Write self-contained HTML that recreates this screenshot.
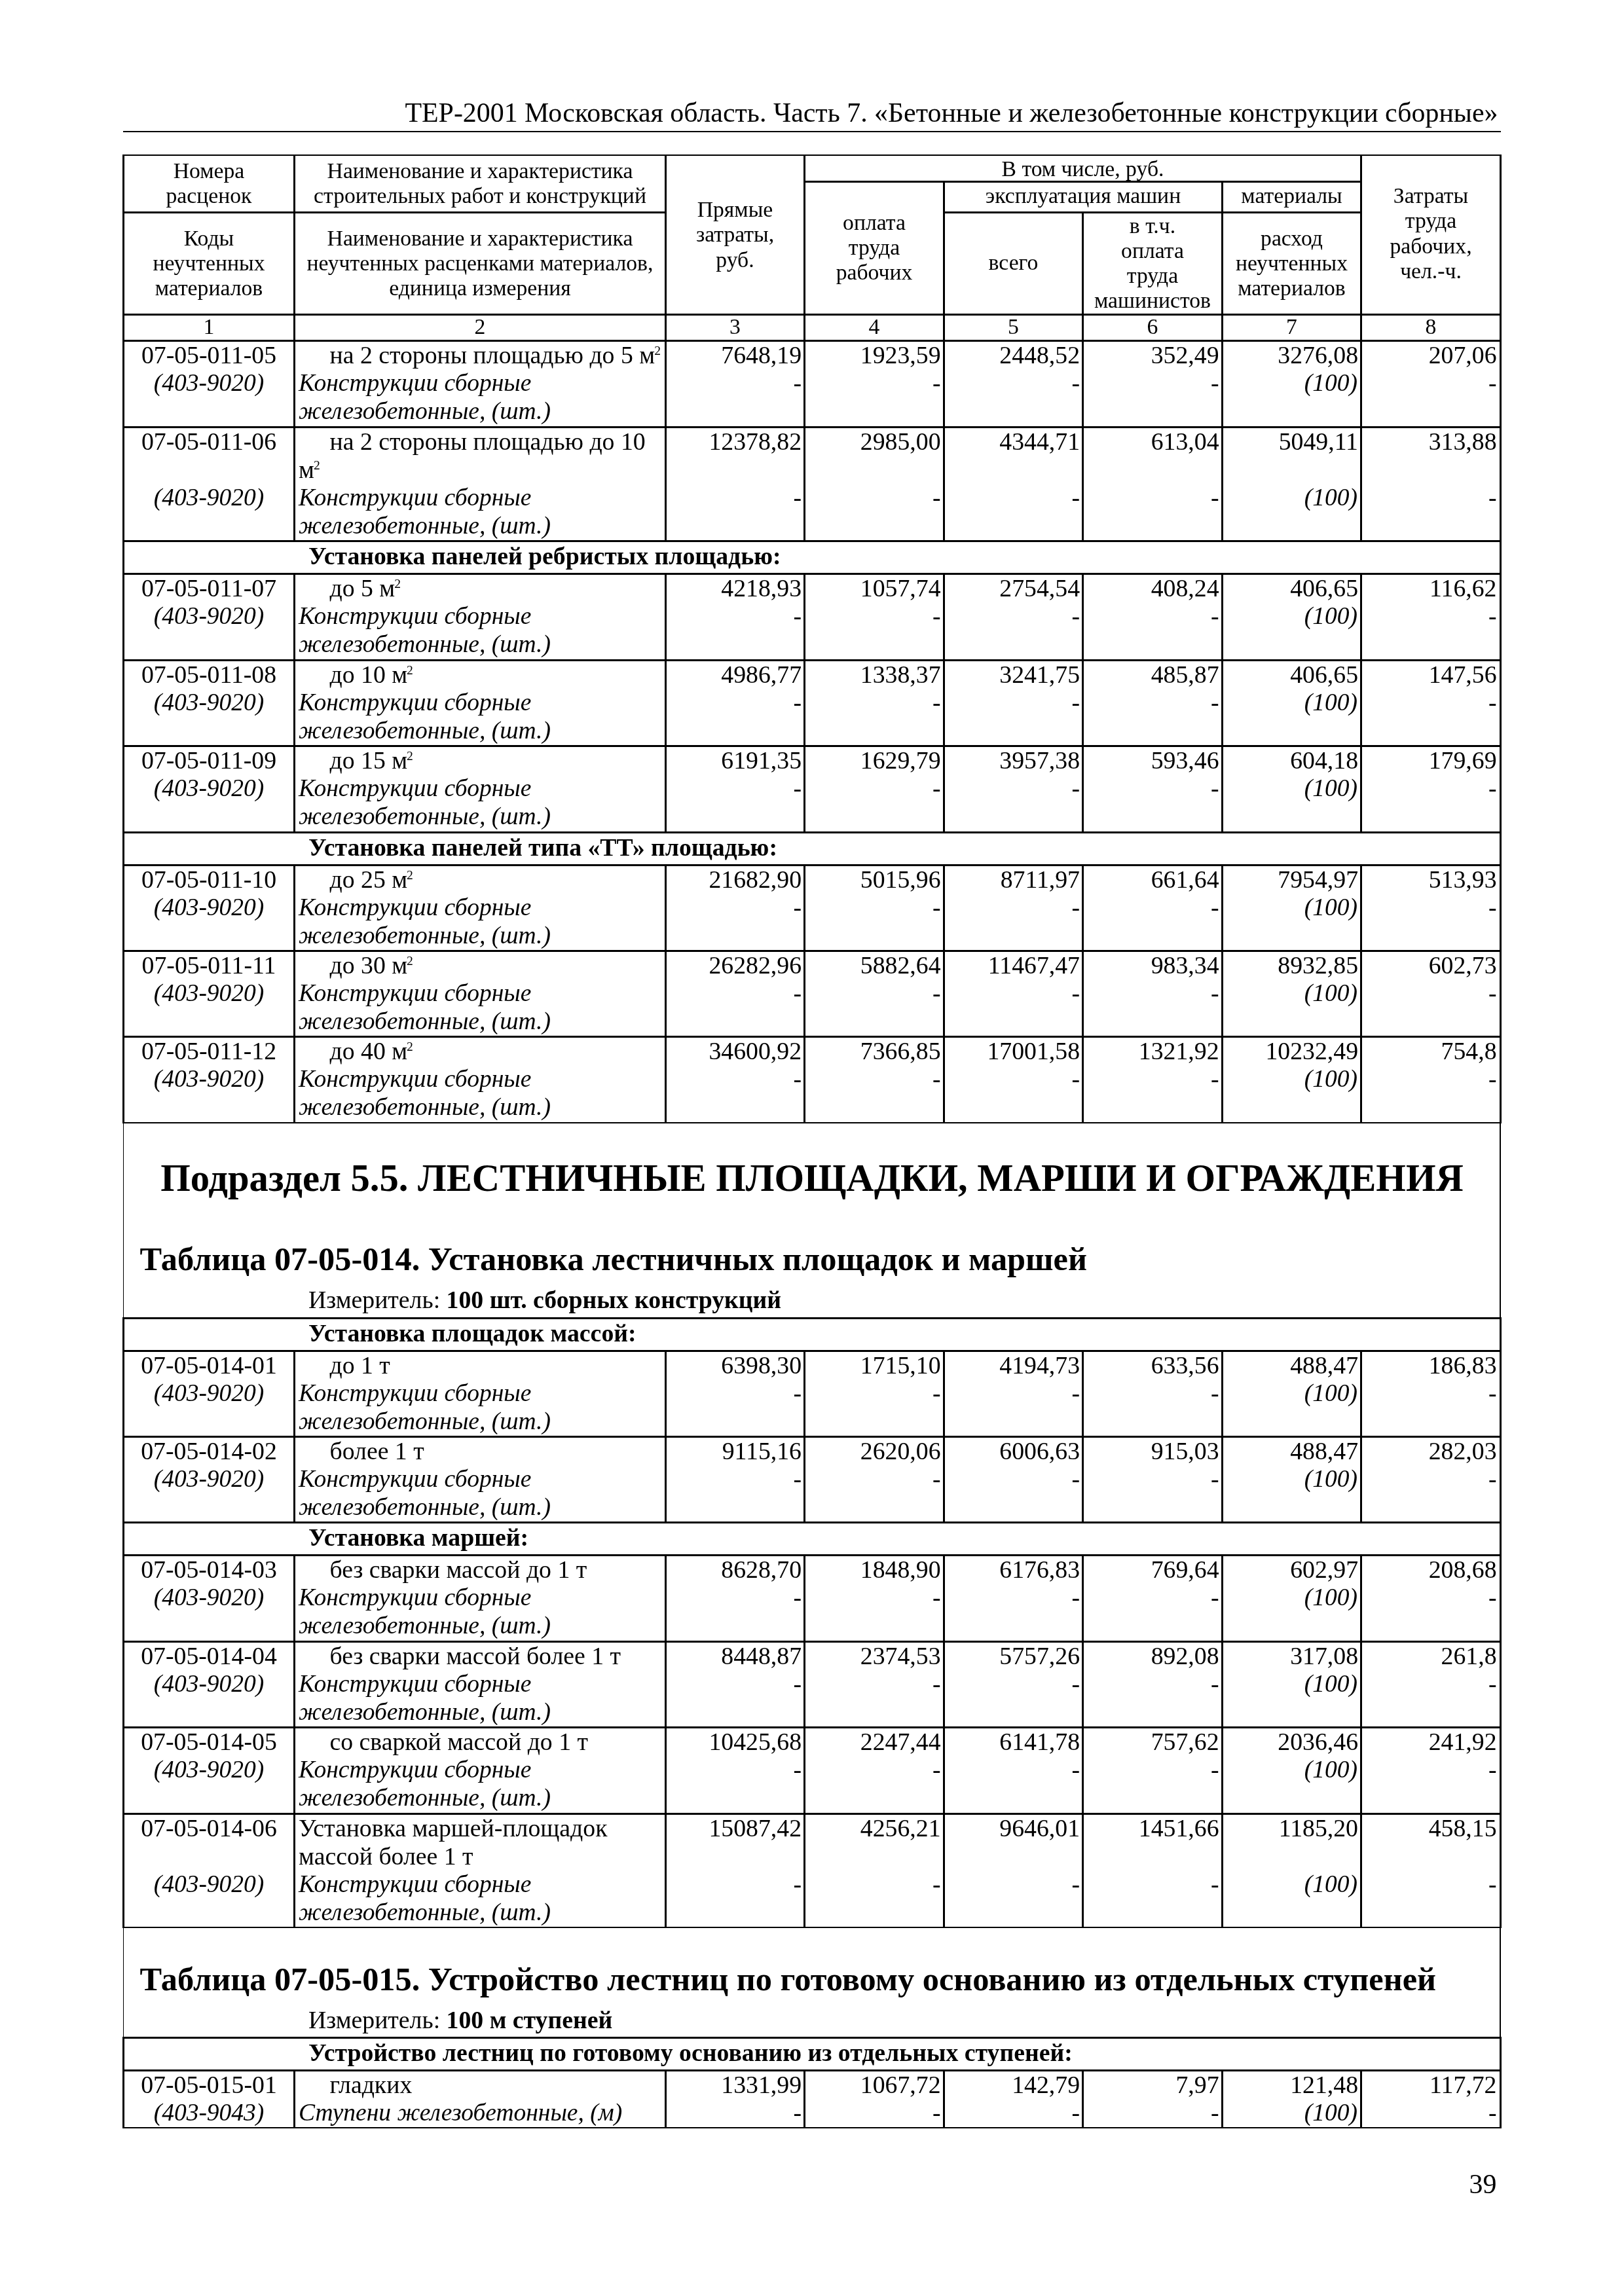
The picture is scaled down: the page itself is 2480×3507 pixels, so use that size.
<!DOCTYPE html>
<html><head><meta charset="utf-8"><style>
html,body{margin:0;padding:0;background:#fff;}
body{width:2480px;height:3507px;position:relative;overflow:hidden;font-family:"Liberation Serif",serif;color:#000;}
.l{position:absolute;background:#000;}
.t{position:absolute;white-space:nowrap;line-height:0;}
.sup{font-size:0.52em;position:relative;top:-0.66em;margin-left:-1px}
#w{position:absolute;left:0;top:0;width:2480px;height:3507px;will-change:transform;}
</style></head><body><div id="w">
<div class="t" style="top:171.66px;font-size:41.9px;right:192.50px;">ТЕР-2001 Московская область. Часть 7. «Бетонные и железобетонные конструкции сборные»</div>
<div class="l" style="left:188px;top:200px;width:2104px;height:2px"></div>
<div class="l" style="left:187px;top:236px;width:2106px;height:2px"></div>
<div class="l" style="left:1227px;top:276px;width:853px;height:3px"></div>
<div class="l" style="left:187px;top:323px;width:831px;height:3px"></div>
<div class="l" style="left:1440px;top:323px;width:640px;height:3px"></div>
<div class="l" style="left:187px;top:479px;width:2106px;height:3px"></div>
<div class="l" style="left:187px;top:519px;width:2106px;height:3px"></div>
<div class="l" style="left:187px;top:236px;width:3px;height:246px"></div>
<div class="l" style="left:448px;top:236px;width:3px;height:246px"></div>
<div class="l" style="left:1015px;top:236px;width:3px;height:246px"></div>
<div class="l" style="left:1227px;top:236px;width:3px;height:246px"></div>
<div class="l" style="left:1440px;top:276px;width:3px;height:206px"></div>
<div class="l" style="left:1652px;top:323px;width:3px;height:159px"></div>
<div class="l" style="left:1865px;top:276px;width:3px;height:206px"></div>
<div class="l" style="left:2077px;top:236px;width:3px;height:246px"></div>
<div class="l" style="left:2290px;top:236px;width:3px;height:246px"></div>
<div class="l" style="left:187px;top:482px;width:3px;height:37px"></div>
<div class="l" style="left:448px;top:482px;width:3px;height:37px"></div>
<div class="l" style="left:1015px;top:482px;width:3px;height:37px"></div>
<div class="l" style="left:1227px;top:482px;width:3px;height:37px"></div>
<div class="l" style="left:1440px;top:482px;width:3px;height:37px"></div>
<div class="l" style="left:1652px;top:482px;width:3px;height:37px"></div>
<div class="l" style="left:1865px;top:482px;width:3px;height:37px"></div>
<div class="l" style="left:2077px;top:482px;width:3px;height:37px"></div>
<div class="l" style="left:2290px;top:482px;width:3px;height:37px"></div>
<div class="t" style="top:261.23px;font-size:33.7px;left:-881.00px;width:2400px;text-align:center;">Номера</div>
<div class="t" style="top:299.43px;font-size:33.7px;left:-881.00px;width:2400px;text-align:center;">расценок</div>
<div class="t" style="top:261.23px;font-size:33.7px;left:-467.00px;width:2400px;text-align:center;">Наименование и характеристика</div>
<div class="t" style="top:299.43px;font-size:33.7px;left:-467.00px;width:2400px;text-align:center;">строительных работ и конструкций</div>
<div class="t" style="top:363.53px;font-size:33.7px;left:-881.00px;width:2400px;text-align:center;">Коды</div>
<div class="t" style="top:401.73px;font-size:33.7px;left:-881.00px;width:2400px;text-align:center;">неучтенных</div>
<div class="t" style="top:439.93px;font-size:33.7px;left:-881.00px;width:2400px;text-align:center;">материалов</div>
<div class="t" style="top:363.53px;font-size:33.7px;left:-467.00px;width:2400px;text-align:center;">Наименование и характеристика</div>
<div class="t" style="top:401.73px;font-size:33.7px;left:-467.00px;width:2400px;text-align:center;">неучтенных расценками материалов,</div>
<div class="t" style="top:439.93px;font-size:33.7px;left:-467.00px;width:2400px;text-align:center;">единица измерения</div>
<div class="t" style="top:320.23px;font-size:33.7px;left:-77.50px;width:2400px;text-align:center;">Прямые</div>
<div class="t" style="top:358.43px;font-size:33.7px;left:-77.50px;width:2400px;text-align:center;">затраты,</div>
<div class="t" style="top:396.63px;font-size:33.7px;left:-77.50px;width:2400px;text-align:center;">руб.</div>
<div class="t" style="top:258.13px;font-size:33.7px;left:453.50px;width:2400px;text-align:center;">В том числе, руб.</div>
<div class="t" style="top:339.63px;font-size:33.7px;left:135.00px;width:2400px;text-align:center;">оплата</div>
<div class="t" style="top:377.83px;font-size:33.7px;left:135.00px;width:2400px;text-align:center;">труда</div>
<div class="t" style="top:416.03px;font-size:33.7px;left:135.00px;width:2400px;text-align:center;">рабочих</div>
<div class="t" style="top:299.33px;font-size:33.7px;left:454.00px;width:2400px;text-align:center;">эксплуатация машин</div>
<div class="t" style="top:299.33px;font-size:33.7px;left:772.50px;width:2400px;text-align:center;">материалы</div>
<div class="t" style="top:401.43px;font-size:33.7px;left:347.50px;width:2400px;text-align:center;">всего</div>
<div class="t" style="top:344.83px;font-size:33.7px;left:560.00px;width:2400px;text-align:center;">в т.ч.</div>
<div class="t" style="top:383.03px;font-size:33.7px;left:560.00px;width:2400px;text-align:center;">оплата</div>
<div class="t" style="top:421.23px;font-size:33.7px;left:560.00px;width:2400px;text-align:center;">труда</div>
<div class="t" style="top:459.43px;font-size:33.7px;left:560.00px;width:2400px;text-align:center;">машинистов</div>
<div class="t" style="top:363.53px;font-size:33.7px;left:772.50px;width:2400px;text-align:center;">расход</div>
<div class="t" style="top:401.73px;font-size:33.7px;left:772.50px;width:2400px;text-align:center;">неучтенных</div>
<div class="t" style="top:439.93px;font-size:33.7px;left:772.50px;width:2400px;text-align:center;">материалов</div>
<div class="t" style="top:299.13px;font-size:33.7px;left:985.00px;width:2400px;text-align:center;">Затраты</div>
<div class="t" style="top:337.43px;font-size:33.7px;left:985.00px;width:2400px;text-align:center;">труда</div>
<div class="t" style="top:375.73px;font-size:33.7px;left:985.00px;width:2400px;text-align:center;">рабочих,</div>
<div class="t" style="top:414.03px;font-size:33.7px;left:985.00px;width:2400px;text-align:center;">чел.-ч.</div>
<div class="t" style="top:499.33px;font-size:33.7px;left:-881.00px;width:2400px;text-align:center;">1</div>
<div class="t" style="top:499.33px;font-size:33.7px;left:-467.00px;width:2400px;text-align:center;">2</div>
<div class="t" style="top:499.33px;font-size:33.7px;left:-77.50px;width:2400px;text-align:center;">3</div>
<div class="t" style="top:499.33px;font-size:33.7px;left:135.00px;width:2400px;text-align:center;">4</div>
<div class="t" style="top:499.33px;font-size:33.7px;left:347.50px;width:2400px;text-align:center;">5</div>
<div class="t" style="top:499.33px;font-size:33.7px;left:560.00px;width:2400px;text-align:center;">6</div>
<div class="t" style="top:499.33px;font-size:33.7px;left:772.50px;width:2400px;text-align:center;">7</div>
<div class="t" style="top:499.33px;font-size:33.7px;left:985.00px;width:2400px;text-align:center;">8</div>
<div class="t" style="top:541.86px;font-size:37.75px;left:-881.00px;width:2400px;text-align:center;">07-05-011-05</div>
<div class="t" style="top:584.96px;font-size:37.5px;font-style:italic;left:-881.00px;width:2400px;text-align:center;">(403-9020)</div>
<div class="t" style="top:541.86px;font-size:37.75px;left:503.50px;">на 2 стороны площадью до 5 м<span class="sup">2</span></div>
<div class="t" style="top:584.96px;font-size:37.5px;font-style:italic;left:456.00px;">Конструкции сборные</div>
<div class="t" style="top:628.06px;font-size:37.5px;font-style:italic;left:456.00px;">железобетонные, (шт.)</div>
<div class="t" style="top:541.86px;font-size:37.75px;right:1256.00px;">7648,19</div>
<div class="t" style="top:541.86px;font-size:37.75px;right:1043.50px;">1923,59</div>
<div class="t" style="top:541.86px;font-size:37.75px;right:831.00px;">2448,52</div>
<div class="t" style="top:541.86px;font-size:37.75px;right:618.50px;">352,49</div>
<div class="t" style="top:541.86px;font-size:37.75px;right:406.00px;">3276,08</div>
<div class="t" style="top:541.86px;font-size:37.75px;right:194.50px;">207,06</div>
<div class="t" style="top:584.96px;font-size:37.75px;right:1256.00px;">-</div>
<div class="t" style="top:584.96px;font-size:37.75px;right:1043.50px;">-</div>
<div class="t" style="top:584.96px;font-size:37.75px;right:831.00px;">-</div>
<div class="t" style="top:584.96px;font-size:37.75px;right:618.50px;">-</div>
<div class="t" style="top:584.96px;font-size:37.5px;font-style:italic;right:407.00px;">(100)</div>
<div class="t" style="top:584.96px;font-size:37.75px;right:194.50px;">-</div>
<div class="l" style="left:448px;top:522px;width:3px;height:129px"></div>
<div class="l" style="left:1015px;top:522px;width:3px;height:129px"></div>
<div class="l" style="left:1227px;top:522px;width:3px;height:129px"></div>
<div class="l" style="left:1440px;top:522px;width:3px;height:129px"></div>
<div class="l" style="left:1652px;top:522px;width:3px;height:129px"></div>
<div class="l" style="left:1865px;top:522px;width:3px;height:129px"></div>
<div class="l" style="left:2077px;top:522px;width:3px;height:129px"></div>
<div class="l" style="left:187px;top:651px;width:2106px;height:3px"></div>
<div class="t" style="top:673.86px;font-size:37.75px;left:-881.00px;width:2400px;text-align:center;">07-05-011-06</div>
<div class="t" style="top:760.06px;font-size:37.5px;font-style:italic;left:-881.00px;width:2400px;text-align:center;">(403-9020)</div>
<div class="t" style="top:673.86px;font-size:37.75px;left:503.50px;">на 2 стороны площадью до 10</div>
<div class="t" style="top:716.96px;font-size:37.75px;left:456.00px;">м<span class="sup">2</span></div>
<div class="t" style="top:760.06px;font-size:37.5px;font-style:italic;left:456.00px;">Конструкции сборные</div>
<div class="t" style="top:803.16px;font-size:37.5px;font-style:italic;left:456.00px;">железобетонные, (шт.)</div>
<div class="t" style="top:673.86px;font-size:37.75px;right:1256.00px;">12378,82</div>
<div class="t" style="top:673.86px;font-size:37.75px;right:1043.50px;">2985,00</div>
<div class="t" style="top:673.86px;font-size:37.75px;right:831.00px;">4344,71</div>
<div class="t" style="top:673.86px;font-size:37.75px;right:618.50px;">613,04</div>
<div class="t" style="top:673.86px;font-size:37.75px;right:406.00px;">5049,11</div>
<div class="t" style="top:673.86px;font-size:37.75px;right:194.50px;">313,88</div>
<div class="t" style="top:760.06px;font-size:37.75px;right:1256.00px;">-</div>
<div class="t" style="top:760.06px;font-size:37.75px;right:1043.50px;">-</div>
<div class="t" style="top:760.06px;font-size:37.75px;right:831.00px;">-</div>
<div class="t" style="top:760.06px;font-size:37.75px;right:618.50px;">-</div>
<div class="t" style="top:760.06px;font-size:37.5px;font-style:italic;right:407.00px;">(100)</div>
<div class="t" style="top:760.06px;font-size:37.75px;right:194.50px;">-</div>
<div class="l" style="left:448px;top:654px;width:3px;height:171px"></div>
<div class="l" style="left:1015px;top:654px;width:3px;height:171px"></div>
<div class="l" style="left:1227px;top:654px;width:3px;height:171px"></div>
<div class="l" style="left:1440px;top:654px;width:3px;height:171px"></div>
<div class="l" style="left:1652px;top:654px;width:3px;height:171px"></div>
<div class="l" style="left:1865px;top:654px;width:3px;height:171px"></div>
<div class="l" style="left:2077px;top:654px;width:3px;height:171px"></div>
<div class="l" style="left:187px;top:825px;width:2106px;height:3px"></div>
<div class="t" style="top:848.86px;font-size:37.75px;font-weight:bold;left:471.00px;">Установка панелей ребристых площадью:</div>
<div class="l" style="left:187px;top:875px;width:2106px;height:3px"></div>
<div class="t" style="top:897.86px;font-size:37.75px;left:-881.00px;width:2400px;text-align:center;">07-05-011-07</div>
<div class="t" style="top:940.96px;font-size:37.5px;font-style:italic;left:-881.00px;width:2400px;text-align:center;">(403-9020)</div>
<div class="t" style="top:897.86px;font-size:37.75px;left:503.50px;">до 5 м<span class="sup">2</span></div>
<div class="t" style="top:940.96px;font-size:37.5px;font-style:italic;left:456.00px;">Конструкции сборные</div>
<div class="t" style="top:984.06px;font-size:37.5px;font-style:italic;left:456.00px;">железобетонные, (шт.)</div>
<div class="t" style="top:897.86px;font-size:37.75px;right:1256.00px;">4218,93</div>
<div class="t" style="top:897.86px;font-size:37.75px;right:1043.50px;">1057,74</div>
<div class="t" style="top:897.86px;font-size:37.75px;right:831.00px;">2754,54</div>
<div class="t" style="top:897.86px;font-size:37.75px;right:618.50px;">408,24</div>
<div class="t" style="top:897.86px;font-size:37.75px;right:406.00px;">406,65</div>
<div class="t" style="top:897.86px;font-size:37.75px;right:194.50px;">116,62</div>
<div class="t" style="top:940.96px;font-size:37.75px;right:1256.00px;">-</div>
<div class="t" style="top:940.96px;font-size:37.75px;right:1043.50px;">-</div>
<div class="t" style="top:940.96px;font-size:37.75px;right:831.00px;">-</div>
<div class="t" style="top:940.96px;font-size:37.75px;right:618.50px;">-</div>
<div class="t" style="top:940.96px;font-size:37.5px;font-style:italic;right:407.00px;">(100)</div>
<div class="t" style="top:940.96px;font-size:37.75px;right:194.50px;">-</div>
<div class="l" style="left:448px;top:878px;width:3px;height:129px"></div>
<div class="l" style="left:1015px;top:878px;width:3px;height:129px"></div>
<div class="l" style="left:1227px;top:878px;width:3px;height:129px"></div>
<div class="l" style="left:1440px;top:878px;width:3px;height:129px"></div>
<div class="l" style="left:1652px;top:878px;width:3px;height:129px"></div>
<div class="l" style="left:1865px;top:878px;width:3px;height:129px"></div>
<div class="l" style="left:2077px;top:878px;width:3px;height:129px"></div>
<div class="l" style="left:187px;top:1007px;width:2106px;height:3px"></div>
<div class="t" style="top:1029.86px;font-size:37.75px;left:-881.00px;width:2400px;text-align:center;">07-05-011-08</div>
<div class="t" style="top:1072.96px;font-size:37.5px;font-style:italic;left:-881.00px;width:2400px;text-align:center;">(403-9020)</div>
<div class="t" style="top:1029.86px;font-size:37.75px;left:503.50px;">до 10 м<span class="sup">2</span></div>
<div class="t" style="top:1072.96px;font-size:37.5px;font-style:italic;left:456.00px;">Конструкции сборные</div>
<div class="t" style="top:1116.06px;font-size:37.5px;font-style:italic;left:456.00px;">железобетонные, (шт.)</div>
<div class="t" style="top:1029.86px;font-size:37.75px;right:1256.00px;">4986,77</div>
<div class="t" style="top:1029.86px;font-size:37.75px;right:1043.50px;">1338,37</div>
<div class="t" style="top:1029.86px;font-size:37.75px;right:831.00px;">3241,75</div>
<div class="t" style="top:1029.86px;font-size:37.75px;right:618.50px;">485,87</div>
<div class="t" style="top:1029.86px;font-size:37.75px;right:406.00px;">406,65</div>
<div class="t" style="top:1029.86px;font-size:37.75px;right:194.50px;">147,56</div>
<div class="t" style="top:1072.96px;font-size:37.75px;right:1256.00px;">-</div>
<div class="t" style="top:1072.96px;font-size:37.75px;right:1043.50px;">-</div>
<div class="t" style="top:1072.96px;font-size:37.75px;right:831.00px;">-</div>
<div class="t" style="top:1072.96px;font-size:37.75px;right:618.50px;">-</div>
<div class="t" style="top:1072.96px;font-size:37.5px;font-style:italic;right:407.00px;">(100)</div>
<div class="t" style="top:1072.96px;font-size:37.75px;right:194.50px;">-</div>
<div class="l" style="left:448px;top:1010px;width:3px;height:128px"></div>
<div class="l" style="left:1015px;top:1010px;width:3px;height:128px"></div>
<div class="l" style="left:1227px;top:1010px;width:3px;height:128px"></div>
<div class="l" style="left:1440px;top:1010px;width:3px;height:128px"></div>
<div class="l" style="left:1652px;top:1010px;width:3px;height:128px"></div>
<div class="l" style="left:1865px;top:1010px;width:3px;height:128px"></div>
<div class="l" style="left:2077px;top:1010px;width:3px;height:128px"></div>
<div class="l" style="left:187px;top:1138px;width:2106px;height:3px"></div>
<div class="t" style="top:1160.86px;font-size:37.75px;left:-881.00px;width:2400px;text-align:center;">07-05-011-09</div>
<div class="t" style="top:1203.96px;font-size:37.5px;font-style:italic;left:-881.00px;width:2400px;text-align:center;">(403-9020)</div>
<div class="t" style="top:1160.86px;font-size:37.75px;left:503.50px;">до 15 м<span class="sup">2</span></div>
<div class="t" style="top:1203.96px;font-size:37.5px;font-style:italic;left:456.00px;">Конструкции сборные</div>
<div class="t" style="top:1247.06px;font-size:37.5px;font-style:italic;left:456.00px;">железобетонные, (шт.)</div>
<div class="t" style="top:1160.86px;font-size:37.75px;right:1256.00px;">6191,35</div>
<div class="t" style="top:1160.86px;font-size:37.75px;right:1043.50px;">1629,79</div>
<div class="t" style="top:1160.86px;font-size:37.75px;right:831.00px;">3957,38</div>
<div class="t" style="top:1160.86px;font-size:37.75px;right:618.50px;">593,46</div>
<div class="t" style="top:1160.86px;font-size:37.75px;right:406.00px;">604,18</div>
<div class="t" style="top:1160.86px;font-size:37.75px;right:194.50px;">179,69</div>
<div class="t" style="top:1203.96px;font-size:37.75px;right:1256.00px;">-</div>
<div class="t" style="top:1203.96px;font-size:37.75px;right:1043.50px;">-</div>
<div class="t" style="top:1203.96px;font-size:37.75px;right:831.00px;">-</div>
<div class="t" style="top:1203.96px;font-size:37.75px;right:618.50px;">-</div>
<div class="t" style="top:1203.96px;font-size:37.5px;font-style:italic;right:407.00px;">(100)</div>
<div class="t" style="top:1203.96px;font-size:37.75px;right:194.50px;">-</div>
<div class="l" style="left:448px;top:1141px;width:3px;height:129px"></div>
<div class="l" style="left:1015px;top:1141px;width:3px;height:129px"></div>
<div class="l" style="left:1227px;top:1141px;width:3px;height:129px"></div>
<div class="l" style="left:1440px;top:1141px;width:3px;height:129px"></div>
<div class="l" style="left:1652px;top:1141px;width:3px;height:129px"></div>
<div class="l" style="left:1865px;top:1141px;width:3px;height:129px"></div>
<div class="l" style="left:2077px;top:1141px;width:3px;height:129px"></div>
<div class="l" style="left:187px;top:1270px;width:2106px;height:3px"></div>
<div class="t" style="top:1293.86px;font-size:37.75px;font-weight:bold;left:471.00px;">Установка панелей типа «ТТ» площадью:</div>
<div class="l" style="left:187px;top:1320px;width:2106px;height:3px"></div>
<div class="t" style="top:1342.86px;font-size:37.75px;left:-881.00px;width:2400px;text-align:center;">07-05-011-10</div>
<div class="t" style="top:1385.96px;font-size:37.5px;font-style:italic;left:-881.00px;width:2400px;text-align:center;">(403-9020)</div>
<div class="t" style="top:1342.86px;font-size:37.75px;left:503.50px;">до 25 м<span class="sup">2</span></div>
<div class="t" style="top:1385.96px;font-size:37.5px;font-style:italic;left:456.00px;">Конструкции сборные</div>
<div class="t" style="top:1429.06px;font-size:37.5px;font-style:italic;left:456.00px;">железобетонные, (шт.)</div>
<div class="t" style="top:1342.86px;font-size:37.75px;right:1256.00px;">21682,90</div>
<div class="t" style="top:1342.86px;font-size:37.75px;right:1043.50px;">5015,96</div>
<div class="t" style="top:1342.86px;font-size:37.75px;right:831.00px;">8711,97</div>
<div class="t" style="top:1342.86px;font-size:37.75px;right:618.50px;">661,64</div>
<div class="t" style="top:1342.86px;font-size:37.75px;right:406.00px;">7954,97</div>
<div class="t" style="top:1342.86px;font-size:37.75px;right:194.50px;">513,93</div>
<div class="t" style="top:1385.96px;font-size:37.75px;right:1256.00px;">-</div>
<div class="t" style="top:1385.96px;font-size:37.75px;right:1043.50px;">-</div>
<div class="t" style="top:1385.96px;font-size:37.75px;right:831.00px;">-</div>
<div class="t" style="top:1385.96px;font-size:37.75px;right:618.50px;">-</div>
<div class="t" style="top:1385.96px;font-size:37.5px;font-style:italic;right:407.00px;">(100)</div>
<div class="t" style="top:1385.96px;font-size:37.75px;right:194.50px;">-</div>
<div class="l" style="left:448px;top:1323px;width:3px;height:128px"></div>
<div class="l" style="left:1015px;top:1323px;width:3px;height:128px"></div>
<div class="l" style="left:1227px;top:1323px;width:3px;height:128px"></div>
<div class="l" style="left:1440px;top:1323px;width:3px;height:128px"></div>
<div class="l" style="left:1652px;top:1323px;width:3px;height:128px"></div>
<div class="l" style="left:1865px;top:1323px;width:3px;height:128px"></div>
<div class="l" style="left:2077px;top:1323px;width:3px;height:128px"></div>
<div class="l" style="left:187px;top:1451px;width:2106px;height:3px"></div>
<div class="t" style="top:1473.86px;font-size:37.75px;left:-881.00px;width:2400px;text-align:center;">07-05-011-11</div>
<div class="t" style="top:1516.96px;font-size:37.5px;font-style:italic;left:-881.00px;width:2400px;text-align:center;">(403-9020)</div>
<div class="t" style="top:1473.86px;font-size:37.75px;left:503.50px;">до 30 м<span class="sup">2</span></div>
<div class="t" style="top:1516.96px;font-size:37.5px;font-style:italic;left:456.00px;">Конструкции сборные</div>
<div class="t" style="top:1560.06px;font-size:37.5px;font-style:italic;left:456.00px;">железобетонные, (шт.)</div>
<div class="t" style="top:1473.86px;font-size:37.75px;right:1256.00px;">26282,96</div>
<div class="t" style="top:1473.86px;font-size:37.75px;right:1043.50px;">5882,64</div>
<div class="t" style="top:1473.86px;font-size:37.75px;right:831.00px;">11467,47</div>
<div class="t" style="top:1473.86px;font-size:37.75px;right:618.50px;">983,34</div>
<div class="t" style="top:1473.86px;font-size:37.75px;right:406.00px;">8932,85</div>
<div class="t" style="top:1473.86px;font-size:37.75px;right:194.50px;">602,73</div>
<div class="t" style="top:1516.96px;font-size:37.75px;right:1256.00px;">-</div>
<div class="t" style="top:1516.96px;font-size:37.75px;right:1043.50px;">-</div>
<div class="t" style="top:1516.96px;font-size:37.75px;right:831.00px;">-</div>
<div class="t" style="top:1516.96px;font-size:37.75px;right:618.50px;">-</div>
<div class="t" style="top:1516.96px;font-size:37.5px;font-style:italic;right:407.00px;">(100)</div>
<div class="t" style="top:1516.96px;font-size:37.75px;right:194.50px;">-</div>
<div class="l" style="left:448px;top:1454px;width:3px;height:128px"></div>
<div class="l" style="left:1015px;top:1454px;width:3px;height:128px"></div>
<div class="l" style="left:1227px;top:1454px;width:3px;height:128px"></div>
<div class="l" style="left:1440px;top:1454px;width:3px;height:128px"></div>
<div class="l" style="left:1652px;top:1454px;width:3px;height:128px"></div>
<div class="l" style="left:1865px;top:1454px;width:3px;height:128px"></div>
<div class="l" style="left:2077px;top:1454px;width:3px;height:128px"></div>
<div class="l" style="left:187px;top:1582px;width:2106px;height:3px"></div>
<div class="t" style="top:1604.86px;font-size:37.75px;left:-881.00px;width:2400px;text-align:center;">07-05-011-12</div>
<div class="t" style="top:1647.96px;font-size:37.5px;font-style:italic;left:-881.00px;width:2400px;text-align:center;">(403-9020)</div>
<div class="t" style="top:1604.86px;font-size:37.75px;left:503.50px;">до 40 м<span class="sup">2</span></div>
<div class="t" style="top:1647.96px;font-size:37.5px;font-style:italic;left:456.00px;">Конструкции сборные</div>
<div class="t" style="top:1691.06px;font-size:37.5px;font-style:italic;left:456.00px;">железобетонные, (шт.)</div>
<div class="t" style="top:1604.86px;font-size:37.75px;right:1256.00px;">34600,92</div>
<div class="t" style="top:1604.86px;font-size:37.75px;right:1043.50px;">7366,85</div>
<div class="t" style="top:1604.86px;font-size:37.75px;right:831.00px;">17001,58</div>
<div class="t" style="top:1604.86px;font-size:37.75px;right:618.50px;">1321,92</div>
<div class="t" style="top:1604.86px;font-size:37.75px;right:406.00px;">10232,49</div>
<div class="t" style="top:1604.86px;font-size:37.75px;right:194.50px;">754,8</div>
<div class="t" style="top:1647.96px;font-size:37.75px;right:1256.00px;">-</div>
<div class="t" style="top:1647.96px;font-size:37.75px;right:1043.50px;">-</div>
<div class="t" style="top:1647.96px;font-size:37.75px;right:831.00px;">-</div>
<div class="t" style="top:1647.96px;font-size:37.75px;right:618.50px;">-</div>
<div class="t" style="top:1647.96px;font-size:37.5px;font-style:italic;right:407.00px;">(100)</div>
<div class="t" style="top:1647.96px;font-size:37.75px;right:194.50px;">-</div>
<div class="l" style="left:448px;top:1585px;width:3px;height:129px"></div>
<div class="l" style="left:1015px;top:1585px;width:3px;height:129px"></div>
<div class="l" style="left:1227px;top:1585px;width:3px;height:129px"></div>
<div class="l" style="left:1440px;top:1585px;width:3px;height:129px"></div>
<div class="l" style="left:1652px;top:1585px;width:3px;height:129px"></div>
<div class="l" style="left:1865px;top:1585px;width:3px;height:129px"></div>
<div class="l" style="left:2077px;top:1585px;width:3px;height:129px"></div>
<div class="l" style="left:187px;top:1714px;width:2106px;height:2px"></div>
<div class="l" style="left:187px;top:519px;width:3px;height:1197px"></div>
<div class="l" style="left:2290px;top:519px;width:3px;height:1197px"></div>
<div class="l" style="left:188px;top:1716px;width:1px;height:296px"></div>
<div class="l" style="left:2290px;top:1716px;width:2px;height:296px"></div>
<div class="t" style="top:1799.72px;font-size:58.6px;font-weight:bold;left:40.00px;width:2400px;text-align:center;">Подраздел 5.5. ЛЕСТНИЧНЫЕ ПЛОЩАДКИ, МАРШИ И ОГРАЖДЕНИЯ</div>
<div class="t" style="top:1923.11px;font-size:50.35px;font-weight:bold;left:213.50px;">Таблица 07-05-014. Установка лестничных площадок и маршей</div>
<div class="t" style="top:1984.76px;font-size:37.75px;left:471.00px;">Измеритель: <b>100 шт. сборных конструкций</b></div>
<div class="l" style="left:187px;top:2012px;width:2106px;height:3px"></div>
<div class="t" style="top:2035.86px;font-size:37.75px;font-weight:bold;left:471.00px;">Установка площадок массой:</div>
<div class="l" style="left:187px;top:2062px;width:2106px;height:3px"></div>
<div class="t" style="top:2084.86px;font-size:37.75px;left:-881.00px;width:2400px;text-align:center;">07-05-014-01</div>
<div class="t" style="top:2127.96px;font-size:37.5px;font-style:italic;left:-881.00px;width:2400px;text-align:center;">(403-9020)</div>
<div class="t" style="top:2084.86px;font-size:37.75px;left:503.50px;">до 1 т</div>
<div class="t" style="top:2127.96px;font-size:37.5px;font-style:italic;left:456.00px;">Конструкции сборные</div>
<div class="t" style="top:2171.06px;font-size:37.5px;font-style:italic;left:456.00px;">железобетонные, (шт.)</div>
<div class="t" style="top:2084.86px;font-size:37.75px;right:1256.00px;">6398,30</div>
<div class="t" style="top:2084.86px;font-size:37.75px;right:1043.50px;">1715,10</div>
<div class="t" style="top:2084.86px;font-size:37.75px;right:831.00px;">4194,73</div>
<div class="t" style="top:2084.86px;font-size:37.75px;right:618.50px;">633,56</div>
<div class="t" style="top:2084.86px;font-size:37.75px;right:406.00px;">488,47</div>
<div class="t" style="top:2084.86px;font-size:37.75px;right:194.50px;">186,83</div>
<div class="t" style="top:2127.96px;font-size:37.75px;right:1256.00px;">-</div>
<div class="t" style="top:2127.96px;font-size:37.75px;right:1043.50px;">-</div>
<div class="t" style="top:2127.96px;font-size:37.75px;right:831.00px;">-</div>
<div class="t" style="top:2127.96px;font-size:37.75px;right:618.50px;">-</div>
<div class="t" style="top:2127.96px;font-size:37.5px;font-style:italic;right:407.00px;">(100)</div>
<div class="t" style="top:2127.96px;font-size:37.75px;right:194.50px;">-</div>
<div class="l" style="left:448px;top:2065px;width:3px;height:128px"></div>
<div class="l" style="left:1015px;top:2065px;width:3px;height:128px"></div>
<div class="l" style="left:1227px;top:2065px;width:3px;height:128px"></div>
<div class="l" style="left:1440px;top:2065px;width:3px;height:128px"></div>
<div class="l" style="left:1652px;top:2065px;width:3px;height:128px"></div>
<div class="l" style="left:1865px;top:2065px;width:3px;height:128px"></div>
<div class="l" style="left:2077px;top:2065px;width:3px;height:128px"></div>
<div class="l" style="left:187px;top:2193px;width:2106px;height:3px"></div>
<div class="t" style="top:2215.86px;font-size:37.75px;left:-881.00px;width:2400px;text-align:center;">07-05-014-02</div>
<div class="t" style="top:2258.96px;font-size:37.5px;font-style:italic;left:-881.00px;width:2400px;text-align:center;">(403-9020)</div>
<div class="t" style="top:2215.86px;font-size:37.75px;left:503.50px;">более 1 т</div>
<div class="t" style="top:2258.96px;font-size:37.5px;font-style:italic;left:456.00px;">Конструкции сборные</div>
<div class="t" style="top:2302.06px;font-size:37.5px;font-style:italic;left:456.00px;">железобетонные, (шт.)</div>
<div class="t" style="top:2215.86px;font-size:37.75px;right:1256.00px;">9115,16</div>
<div class="t" style="top:2215.86px;font-size:37.75px;right:1043.50px;">2620,06</div>
<div class="t" style="top:2215.86px;font-size:37.75px;right:831.00px;">6006,63</div>
<div class="t" style="top:2215.86px;font-size:37.75px;right:618.50px;">915,03</div>
<div class="t" style="top:2215.86px;font-size:37.75px;right:406.00px;">488,47</div>
<div class="t" style="top:2215.86px;font-size:37.75px;right:194.50px;">282,03</div>
<div class="t" style="top:2258.96px;font-size:37.75px;right:1256.00px;">-</div>
<div class="t" style="top:2258.96px;font-size:37.75px;right:1043.50px;">-</div>
<div class="t" style="top:2258.96px;font-size:37.75px;right:831.00px;">-</div>
<div class="t" style="top:2258.96px;font-size:37.75px;right:618.50px;">-</div>
<div class="t" style="top:2258.96px;font-size:37.5px;font-style:italic;right:407.00px;">(100)</div>
<div class="t" style="top:2258.96px;font-size:37.75px;right:194.50px;">-</div>
<div class="l" style="left:448px;top:2196px;width:3px;height:128px"></div>
<div class="l" style="left:1015px;top:2196px;width:3px;height:128px"></div>
<div class="l" style="left:1227px;top:2196px;width:3px;height:128px"></div>
<div class="l" style="left:1440px;top:2196px;width:3px;height:128px"></div>
<div class="l" style="left:1652px;top:2196px;width:3px;height:128px"></div>
<div class="l" style="left:1865px;top:2196px;width:3px;height:128px"></div>
<div class="l" style="left:2077px;top:2196px;width:3px;height:128px"></div>
<div class="l" style="left:187px;top:2324px;width:2106px;height:3px"></div>
<div class="t" style="top:2347.86px;font-size:37.75px;font-weight:bold;left:471.00px;">Установка маршей:</div>
<div class="l" style="left:187px;top:2374px;width:2106px;height:3px"></div>
<div class="t" style="top:2396.86px;font-size:37.75px;left:-881.00px;width:2400px;text-align:center;">07-05-014-03</div>
<div class="t" style="top:2439.96px;font-size:37.5px;font-style:italic;left:-881.00px;width:2400px;text-align:center;">(403-9020)</div>
<div class="t" style="top:2396.86px;font-size:37.75px;left:503.50px;">без сварки массой до 1 т</div>
<div class="t" style="top:2439.96px;font-size:37.5px;font-style:italic;left:456.00px;">Конструкции сборные</div>
<div class="t" style="top:2483.06px;font-size:37.5px;font-style:italic;left:456.00px;">железобетонные, (шт.)</div>
<div class="t" style="top:2396.86px;font-size:37.75px;right:1256.00px;">8628,70</div>
<div class="t" style="top:2396.86px;font-size:37.75px;right:1043.50px;">1848,90</div>
<div class="t" style="top:2396.86px;font-size:37.75px;right:831.00px;">6176,83</div>
<div class="t" style="top:2396.86px;font-size:37.75px;right:618.50px;">769,64</div>
<div class="t" style="top:2396.86px;font-size:37.75px;right:406.00px;">602,97</div>
<div class="t" style="top:2396.86px;font-size:37.75px;right:194.50px;">208,68</div>
<div class="t" style="top:2439.96px;font-size:37.75px;right:1256.00px;">-</div>
<div class="t" style="top:2439.96px;font-size:37.75px;right:1043.50px;">-</div>
<div class="t" style="top:2439.96px;font-size:37.75px;right:831.00px;">-</div>
<div class="t" style="top:2439.96px;font-size:37.75px;right:618.50px;">-</div>
<div class="t" style="top:2439.96px;font-size:37.5px;font-style:italic;right:407.00px;">(100)</div>
<div class="t" style="top:2439.96px;font-size:37.75px;right:194.50px;">-</div>
<div class="l" style="left:448px;top:2377px;width:3px;height:129px"></div>
<div class="l" style="left:1015px;top:2377px;width:3px;height:129px"></div>
<div class="l" style="left:1227px;top:2377px;width:3px;height:129px"></div>
<div class="l" style="left:1440px;top:2377px;width:3px;height:129px"></div>
<div class="l" style="left:1652px;top:2377px;width:3px;height:129px"></div>
<div class="l" style="left:1865px;top:2377px;width:3px;height:129px"></div>
<div class="l" style="left:2077px;top:2377px;width:3px;height:129px"></div>
<div class="l" style="left:187px;top:2506px;width:2106px;height:3px"></div>
<div class="t" style="top:2528.86px;font-size:37.75px;left:-881.00px;width:2400px;text-align:center;">07-05-014-04</div>
<div class="t" style="top:2571.96px;font-size:37.5px;font-style:italic;left:-881.00px;width:2400px;text-align:center;">(403-9020)</div>
<div class="t" style="top:2528.86px;font-size:37.75px;left:503.50px;">без сварки массой более 1 т</div>
<div class="t" style="top:2571.96px;font-size:37.5px;font-style:italic;left:456.00px;">Конструкции сборные</div>
<div class="t" style="top:2615.06px;font-size:37.5px;font-style:italic;left:456.00px;">железобетонные, (шт.)</div>
<div class="t" style="top:2528.86px;font-size:37.75px;right:1256.00px;">8448,87</div>
<div class="t" style="top:2528.86px;font-size:37.75px;right:1043.50px;">2374,53</div>
<div class="t" style="top:2528.86px;font-size:37.75px;right:831.00px;">5757,26</div>
<div class="t" style="top:2528.86px;font-size:37.75px;right:618.50px;">892,08</div>
<div class="t" style="top:2528.86px;font-size:37.75px;right:406.00px;">317,08</div>
<div class="t" style="top:2528.86px;font-size:37.75px;right:194.50px;">261,8</div>
<div class="t" style="top:2571.96px;font-size:37.75px;right:1256.00px;">-</div>
<div class="t" style="top:2571.96px;font-size:37.75px;right:1043.50px;">-</div>
<div class="t" style="top:2571.96px;font-size:37.75px;right:831.00px;">-</div>
<div class="t" style="top:2571.96px;font-size:37.75px;right:618.50px;">-</div>
<div class="t" style="top:2571.96px;font-size:37.5px;font-style:italic;right:407.00px;">(100)</div>
<div class="t" style="top:2571.96px;font-size:37.75px;right:194.50px;">-</div>
<div class="l" style="left:448px;top:2509px;width:3px;height:128px"></div>
<div class="l" style="left:1015px;top:2509px;width:3px;height:128px"></div>
<div class="l" style="left:1227px;top:2509px;width:3px;height:128px"></div>
<div class="l" style="left:1440px;top:2509px;width:3px;height:128px"></div>
<div class="l" style="left:1652px;top:2509px;width:3px;height:128px"></div>
<div class="l" style="left:1865px;top:2509px;width:3px;height:128px"></div>
<div class="l" style="left:2077px;top:2509px;width:3px;height:128px"></div>
<div class="l" style="left:187px;top:2637px;width:2106px;height:3px"></div>
<div class="t" style="top:2659.86px;font-size:37.75px;left:-881.00px;width:2400px;text-align:center;">07-05-014-05</div>
<div class="t" style="top:2702.96px;font-size:37.5px;font-style:italic;left:-881.00px;width:2400px;text-align:center;">(403-9020)</div>
<div class="t" style="top:2659.86px;font-size:37.75px;left:503.50px;">со сваркой массой до 1 т</div>
<div class="t" style="top:2702.96px;font-size:37.5px;font-style:italic;left:456.00px;">Конструкции сборные</div>
<div class="t" style="top:2746.06px;font-size:37.5px;font-style:italic;left:456.00px;">железобетонные, (шт.)</div>
<div class="t" style="top:2659.86px;font-size:37.75px;right:1256.00px;">10425,68</div>
<div class="t" style="top:2659.86px;font-size:37.75px;right:1043.50px;">2247,44</div>
<div class="t" style="top:2659.86px;font-size:37.75px;right:831.00px;">6141,78</div>
<div class="t" style="top:2659.86px;font-size:37.75px;right:618.50px;">757,62</div>
<div class="t" style="top:2659.86px;font-size:37.75px;right:406.00px;">2036,46</div>
<div class="t" style="top:2659.86px;font-size:37.75px;right:194.50px;">241,92</div>
<div class="t" style="top:2702.96px;font-size:37.75px;right:1256.00px;">-</div>
<div class="t" style="top:2702.96px;font-size:37.75px;right:1043.50px;">-</div>
<div class="t" style="top:2702.96px;font-size:37.75px;right:831.00px;">-</div>
<div class="t" style="top:2702.96px;font-size:37.75px;right:618.50px;">-</div>
<div class="t" style="top:2702.96px;font-size:37.5px;font-style:italic;right:407.00px;">(100)</div>
<div class="t" style="top:2702.96px;font-size:37.75px;right:194.50px;">-</div>
<div class="l" style="left:448px;top:2640px;width:3px;height:129px"></div>
<div class="l" style="left:1015px;top:2640px;width:3px;height:129px"></div>
<div class="l" style="left:1227px;top:2640px;width:3px;height:129px"></div>
<div class="l" style="left:1440px;top:2640px;width:3px;height:129px"></div>
<div class="l" style="left:1652px;top:2640px;width:3px;height:129px"></div>
<div class="l" style="left:1865px;top:2640px;width:3px;height:129px"></div>
<div class="l" style="left:2077px;top:2640px;width:3px;height:129px"></div>
<div class="l" style="left:187px;top:2769px;width:2106px;height:3px"></div>
<div class="t" style="top:2791.86px;font-size:37.75px;left:-881.00px;width:2400px;text-align:center;">07-05-014-06</div>
<div class="t" style="top:2878.06px;font-size:37.5px;font-style:italic;left:-881.00px;width:2400px;text-align:center;">(403-9020)</div>
<div class="t" style="top:2791.86px;font-size:37.75px;left:456.00px;">Установка маршей-площадок</div>
<div class="t" style="top:2834.96px;font-size:37.75px;left:456.00px;">массой более 1 т</div>
<div class="t" style="top:2878.06px;font-size:37.5px;font-style:italic;left:456.00px;">Конструкции сборные</div>
<div class="t" style="top:2921.16px;font-size:37.5px;font-style:italic;left:456.00px;">железобетонные, (шт.)</div>
<div class="t" style="top:2791.86px;font-size:37.75px;right:1256.00px;">15087,42</div>
<div class="t" style="top:2791.86px;font-size:37.75px;right:1043.50px;">4256,21</div>
<div class="t" style="top:2791.86px;font-size:37.75px;right:831.00px;">9646,01</div>
<div class="t" style="top:2791.86px;font-size:37.75px;right:618.50px;">1451,66</div>
<div class="t" style="top:2791.86px;font-size:37.75px;right:406.00px;">1185,20</div>
<div class="t" style="top:2791.86px;font-size:37.75px;right:194.50px;">458,15</div>
<div class="t" style="top:2878.06px;font-size:37.75px;right:1256.00px;">-</div>
<div class="t" style="top:2878.06px;font-size:37.75px;right:1043.50px;">-</div>
<div class="t" style="top:2878.06px;font-size:37.75px;right:831.00px;">-</div>
<div class="t" style="top:2878.06px;font-size:37.75px;right:618.50px;">-</div>
<div class="t" style="top:2878.06px;font-size:37.5px;font-style:italic;right:407.00px;">(100)</div>
<div class="t" style="top:2878.06px;font-size:37.75px;right:194.50px;">-</div>
<div class="l" style="left:448px;top:2772px;width:3px;height:171px"></div>
<div class="l" style="left:1015px;top:2772px;width:3px;height:171px"></div>
<div class="l" style="left:1227px;top:2772px;width:3px;height:171px"></div>
<div class="l" style="left:1440px;top:2772px;width:3px;height:171px"></div>
<div class="l" style="left:1652px;top:2772px;width:3px;height:171px"></div>
<div class="l" style="left:1865px;top:2772px;width:3px;height:171px"></div>
<div class="l" style="left:2077px;top:2772px;width:3px;height:171px"></div>
<div class="l" style="left:187px;top:2943px;width:2106px;height:2px"></div>
<div class="l" style="left:187px;top:2012px;width:3px;height:933px"></div>
<div class="l" style="left:2290px;top:2012px;width:3px;height:933px"></div>
<div class="l" style="left:188px;top:2945px;width:1px;height:166px"></div>
<div class="l" style="left:2290px;top:2945px;width:2px;height:166px"></div>
<div class="t" style="top:3023.21px;font-size:50.35px;font-weight:bold;left:213.50px;">Таблица 07-05-015. Устройство лестниц по готовому основанию из отдельных ступеней</div>
<div class="t" style="top:3084.56px;font-size:37.75px;left:471.00px;">Измеритель: <b>100 м ступеней</b></div>
<div class="l" style="left:187px;top:3111px;width:2106px;height:3px"></div>
<div class="t" style="top:3134.86px;font-size:37.75px;font-weight:bold;left:471.00px;">Устройство лестниц по готовому основанию из отдельных ступеней:</div>
<div class="l" style="left:187px;top:3161px;width:2106px;height:3px"></div>
<div class="t" style="top:3183.86px;font-size:37.75px;left:-881.00px;width:2400px;text-align:center;">07-05-015-01</div>
<div class="t" style="top:3226.96px;font-size:37.5px;font-style:italic;left:-881.00px;width:2400px;text-align:center;">(403-9043)</div>
<div class="t" style="top:3183.86px;font-size:37.75px;left:503.50px;">гладких</div>
<div class="t" style="top:3226.96px;font-size:37.5px;font-style:italic;left:456.00px;">Ступени железобетонные, (м)</div>
<div class="t" style="top:3183.86px;font-size:37.75px;right:1256.00px;">1331,99</div>
<div class="t" style="top:3183.86px;font-size:37.75px;right:1043.50px;">1067,72</div>
<div class="t" style="top:3183.86px;font-size:37.75px;right:831.00px;">142,79</div>
<div class="t" style="top:3183.86px;font-size:37.75px;right:618.50px;">7,97</div>
<div class="t" style="top:3183.86px;font-size:37.75px;right:406.00px;">121,48</div>
<div class="t" style="top:3183.86px;font-size:37.75px;right:194.50px;">117,72</div>
<div class="t" style="top:3226.96px;font-size:37.75px;right:1256.00px;">-</div>
<div class="t" style="top:3226.96px;font-size:37.75px;right:1043.50px;">-</div>
<div class="t" style="top:3226.96px;font-size:37.75px;right:831.00px;">-</div>
<div class="t" style="top:3226.96px;font-size:37.75px;right:618.50px;">-</div>
<div class="t" style="top:3226.96px;font-size:37.5px;font-style:italic;right:407.00px;">(100)</div>
<div class="t" style="top:3226.96px;font-size:37.75px;right:194.50px;">-</div>
<div class="l" style="left:448px;top:3164px;width:3px;height:85px"></div>
<div class="l" style="left:1015px;top:3164px;width:3px;height:85px"></div>
<div class="l" style="left:1227px;top:3164px;width:3px;height:85px"></div>
<div class="l" style="left:1440px;top:3164px;width:3px;height:85px"></div>
<div class="l" style="left:1652px;top:3164px;width:3px;height:85px"></div>
<div class="l" style="left:1865px;top:3164px;width:3px;height:85px"></div>
<div class="l" style="left:2077px;top:3164px;width:3px;height:85px"></div>
<div class="l" style="left:187px;top:3249px;width:2106px;height:2px"></div>
<div class="l" style="left:187px;top:3111px;width:3px;height:140px"></div>
<div class="l" style="left:2290px;top:3111px;width:3px;height:140px"></div>
<div class="t" style="top:3335.66px;font-size:41.9px;right:194.50px;">39</div>
</div></body></html>
